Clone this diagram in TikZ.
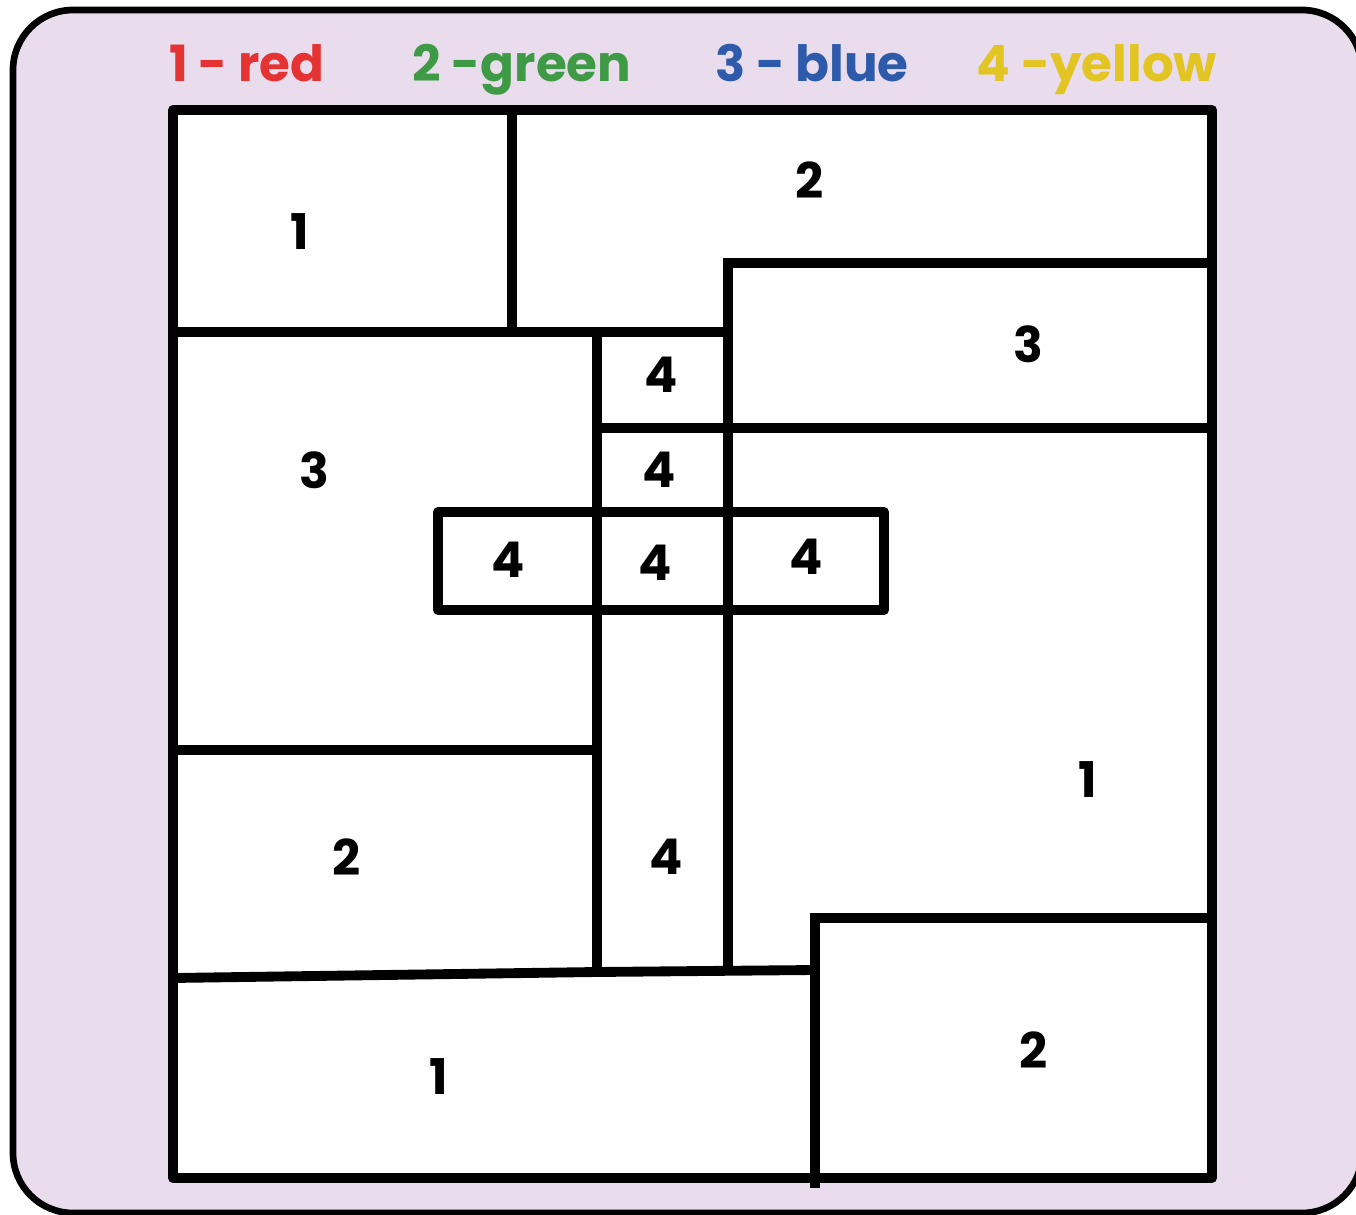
\documentclass[tikz,border=0pt]{standalone}
\usepackage{fontspec}
\setmainfont{Poppins}
\usepackage{tikz}
\usepackage{xcolor}
\usetikzlibrary{positioning}
\definecolor{keyred}{HTML}{E53232}
\definecolor{keygreen}{HTML}{3E9A44}
\definecolor{keyblue}{HTML}{2E5AAC}
\definecolor{keyyellow}{HTML}{E2C422}
\definecolor{cardbg}{HTML}{E9DCEC}
\tikzset{
  every picture/.append style={line cap=round,line join=round},
  map card/.style={draw=black,line width=1.9pt,fill=cardbg,rounded corners=0.6cm},
  map line/.style={line width=2.8pt,line cap=rect},
  map label/.style={font=\fontsize{14}{14}\selectfont\bfseries,inner sep=0pt},
  map key/.style={font=\fontsize{14.2}{14}\selectfont\bfseries,inner sep=0pt,anchor=base}
}
\begin{document}
\begin{tikzpicture}[x=0.01cm,y=-0.01cm]
\useasboundingbox (0,0) rectangle (1356,1215);
\begin{scope}
\clip (0,0) rectangle (1356,1215);
\draw[map card] (13,10) rectangle (1362,1213);
\end{scope}
% colour key
\node[map key,text=keyred] (key1) at (247,81) {1 - red};
\node[map key,text=keygreen] (key2) at (522,81) {2 -green};
\node[map key,text=keyblue] (key3) at (812,81) {3 - blue};
\node[map key,text=keyyellow] (key4) at (1097,81) {4 -yellow};
% regions
\fill[white] (173,110) rectangle (1212,1178);
\draw[map line] (173,110) rectangle (1212,1178);
\draw[map line] (512,110) -- (512,332);
\draw[map line] (173,332) -- (728,332);
\draw[map line] (728,263) -- (1212,263);
\draw[map line] (728,263) -- (728,970);
\draw[map line] (597,332) -- (597,970);
\draw[map line] (597,428) -- (1212,428);
\draw[map line] (438,512) rectangle (884,610);
\draw[map line] (173,750) -- (597,750);
\draw[map line] (173,978) -- (597,972) -- (815,970);
\draw[map line] (815,918) -- (1212,918);
\draw[map line] (815,918) -- (815,1183);
% numbers
\node[map label] (r1a) at (300,232) {1};
\node[map label] (r2a) at (810,180) {2};
\node[map label] (r3a) at (1028,344) {3};
\node[map label] (r4a) at (661,375) {4};
\node[map label] (r4b) at (659,470) {4};
\node[map label] (r3b) at (314,470) {3};
\node[map label] (r4c) at (508,560) {4};
\node[map label] (r4d) at (655,563) {4};
\node[map label] (r4e) at (806,557) {4};
\node[map label] (r1b) at (1088,780) {1};
\node[map label] (r2b) at (347,857) {2};
\node[map label] (r4f) at (666,857) {4};
\node[map label] (r1c) at (439,1077) {1};
\node[map label] (r2c) at (1034,1050) {2};
\end{tikzpicture}
\end{document}
